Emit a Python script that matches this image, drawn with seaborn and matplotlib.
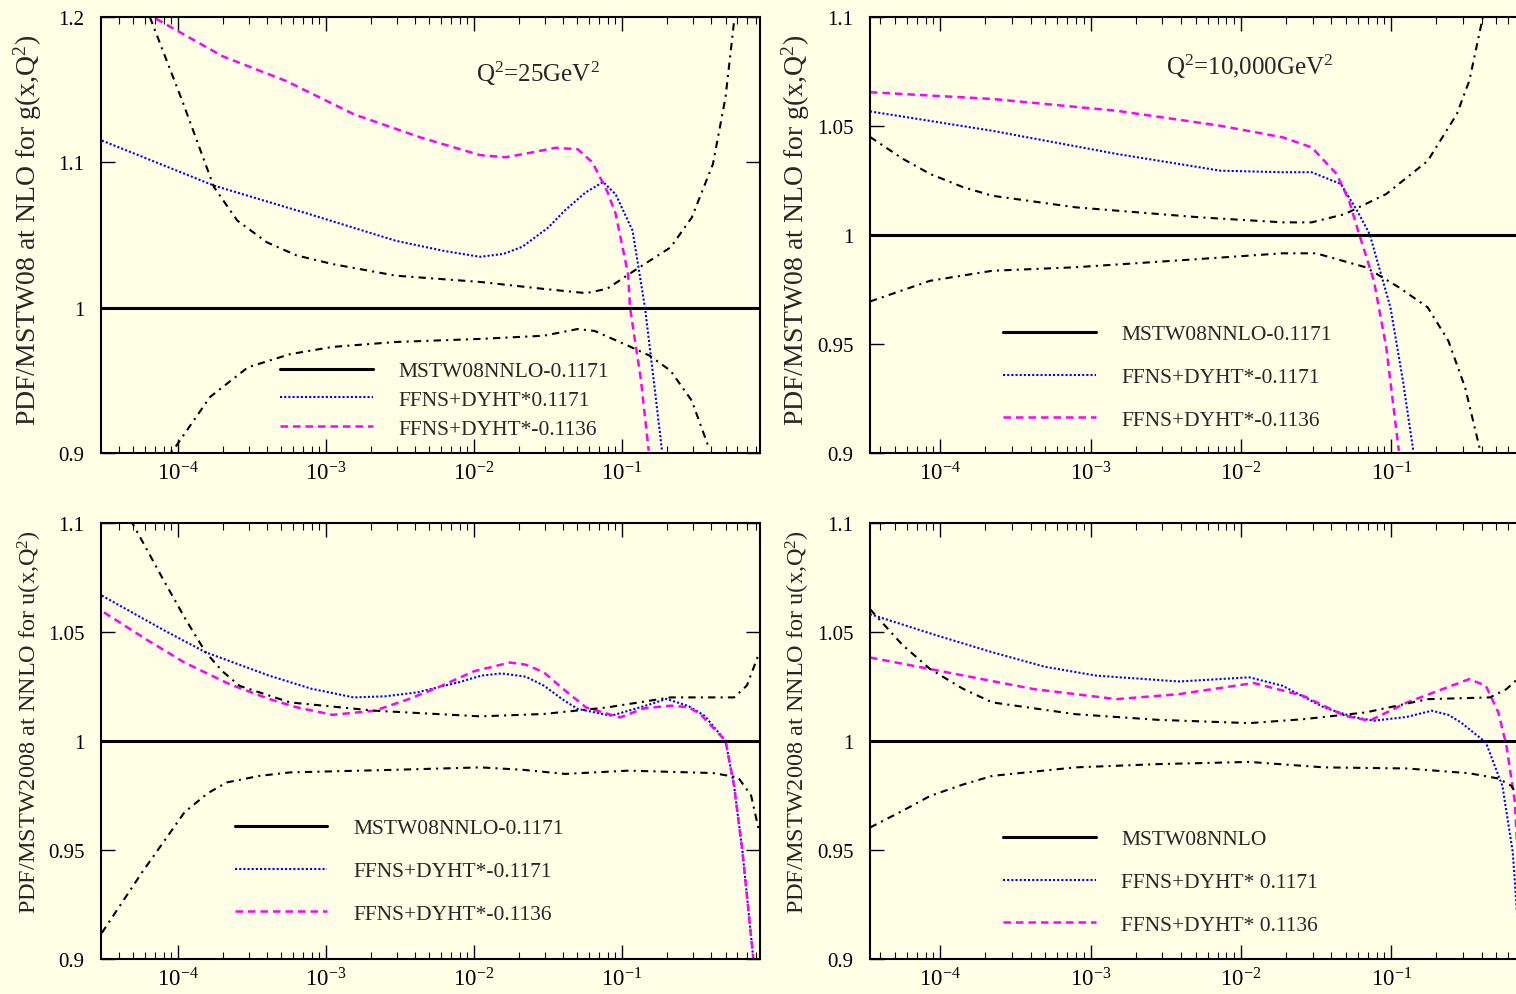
import numpy as np
import seaborn as sns
import matplotlib.pyplot as plt
from matplotlib.ticker import LogLocator, FixedLocator, FuncFormatter, NullFormatter

sns.set_style('ticks')
plt.rcParams['font.family'] = ['Liberation Serif', 'DejaVu Serif']
plt.rcParams['mathtext.fontset'] = 'custom'
plt.rcParams['mathtext.rm'] = 'Liberation Serif'
plt.rcParams['mathtext.it'] = 'Liberation Serif:italic'
plt.rcParams['mathtext.bf'] = 'Liberation Serif:bold'

BG = '#ffffe6'

# ---------------- top left : gluon, Q2 = 25 GeV2 (log10 x, ratio)
tl_blue_lx = [-4.514, -3.757, -3.101, -2.527, -2.2, -1.959, -1.8, -1.672, -1.5, -1.385, -1.25, -1.128, -1.043, -0.929, -0.845, -0.786, -0.730]
tl_blue_y = [1.115, 1.084, 1.064, 1.046, 1.039, 1.035, 1.037, 1.042, 1.055, 1.067, 1.079, 1.0865, 1.078, 1.053, 1.000, 0.950, 0.9016]
tl_mag_lx = [-4.52, -4.169, -3.699, -3.27, -2.81, -2.358, -1.96, -1.786, -1.65, -1.45, -1.3, -1.2, -1.1, -1.043, -0.959, -0.946, -0.872, -0.820]
tl_mag_y = [1.215, 1.200, 1.173, 1.156, 1.133, 1.117, 1.105, 1.1035, 1.106, 1.110, 1.109, 1.100, 1.080, 1.0645, 1.023, 1.000, 0.950, 0.9016]
tl_up_lx = [-4.52, -4.19, -3.97, -3.757, -3.6, -3.4, -3.2, -2.956, -2.527, -1.959, -1.528, -1.243, -1.101, -0.900, -0.672, -0.529, -0.386, -0.301, -0.243]
tl_up_y = [1.28, 1.200, 1.142, 1.083, 1.060, 1.045, 1.036, 1.030, 1.022, 1.0177, 1.0129, 1.010, 1.013, 1.0266, 1.0415, 1.062, 1.0988, 1.1447, 1.197]
tl_lo_lx = [-4.52, -4.027, -3.784, -3.527, -3.243, -2.956, -2.527, -1.959, -1.528, -1.300, -1.186, -0.959, -0.814, -0.672, -0.529, -0.415]
tl_lo_y = [0.86, 0.9027, 0.9385, 0.959, 0.968, 0.973, 0.9764, 0.9785, 0.9807, 0.9853, 0.984, 0.9738, 0.967, 0.9566, 0.936, 0.904]

# ---------------- top right : gluon, Q2 = 10,000 GeV2
tr_blue_lx = [-4.467, -3.653, -2.827, -2.135, -1.722, -1.529, -1.335, -1.227, -1.143, -1.005, -0.922, -0.853]
tr_blue_y = [1.0567, 1.0478, 1.0372, 1.0295, 1.0288, 1.0288, 1.0234, 1.0112, 1.0004, 0.9668, 0.9332, 0.901]
tr_mag_lx = [-4.467, -3.653, -2.827, -2.135, -1.722, -1.529, -1.363, -1.28, -1.213, -1.115, -1.033, -0.949]
tr_mag_y = [1.0655, 1.0624, 1.057, 1.0501, 1.0448, 1.0402, 1.028, 1.0157, 1.0004, 0.979, 0.9486, 0.901]
tr_up_lx = [-4.467, -4.25, -4.067, -3.85, -3.653, -3.1, -2.273, -1.722, -1.529, -1.308, -1.033, -0.757, -0.563, -0.48, -0.4, -0.3]
tr_up_y = [1.045, 1.035, 1.028, 1.022, 1.018, 1.0127, 1.0081, 1.0058, 1.0058, 1.0096, 1.0188, 1.034, 1.0555, 1.0708, 1.0968, 1.13]
tr_lo_lx = [-4.467, -4.067, -3.653, -3.1, -2.273, -1.722, -1.5, -1.17, -0.949, -0.757, -0.62, -0.508, -0.413, -0.35]
tr_lo_y = [0.9695, 0.979, 0.9836, 0.9852, 0.989, 0.9916, 0.9916, 0.9852, 0.976, 0.9668, 0.9515, 0.930, 0.9026, 0.88]

# ---------------- bottom left : up quark, NNLO
bl_blue_lx = [-4.514, -4.1, -3.813, -3.385, -3.1, -2.814, -2.6, -2.385, -2.1, -1.95, -1.814, -1.65, -1.528, -1.4, -1.3, -1.072, -0.85, -0.7, -0.55, -0.443, -0.301, -0.243, -0.186, -0.115, -0.09]
bl_blue_y = [1.0667, 1.051, 1.0407, 1.030, 1.024, 1.020, 1.0205, 1.0223, 1.027, 1.030, 1.031, 1.0295, 1.0254, 1.019, 1.0147, 1.0116, 1.016, 1.0193, 1.016, 1.0116, 1.0001, 0.9794, 0.949, 0.9014, 0.88]
bl_mag_lx = [-4.5, -4.2, -3.956, -3.65, -3.385, -3.2, -2.956, -2.671, -2.45, -2.243, -2.0, -1.757, -1.65, -1.528, -1.4, -1.243, -1.014, -0.85, -0.672, -0.55, -0.473, -0.301, -0.243, -0.186, -0.115, -0.09]
bl_mag_y = [1.059, 1.046, 1.036, 1.026, 1.0193, 1.0155, 1.012, 1.0139, 1.019, 1.0246, 1.032, 1.036, 1.035, 1.0315, 1.024, 1.0154, 1.0108, 1.015, 1.0162, 1.0155, 1.0124, 1.0001, 0.9794, 0.949, 0.9014, 0.88]
bl_up_lx = [-4.52, -4.284, -4.099, -3.95, -3.813, -3.7, -3.584, -3.243, -2.671, -1.957, -1.528, -1.101, -0.672, -0.243, -0.157, -0.072]
bl_up_y = [1.125, 1.097, 1.074, 1.056, 1.0407, 1.032, 1.0253, 1.0177, 1.0139, 1.0113, 1.0124, 1.0154, 1.020, 1.020, 1.0254, 1.0407]
bl_lo_lx = [-4.514, -4.243, -3.956, -3.8, -3.67, -3.45, -3.243, -2.528, -1.957, -1.672, -1.385, -0.957, -0.386, -0.216, -0.128, -0.072]
bl_lo_y = [0.912, 0.9397, 0.9673, 0.976, 0.981, 0.984, 0.9856, 0.9868, 0.9879, 0.9868, 0.9849, 0.9864, 0.9853, 0.9833, 0.975, 0.958]

# ---------------- bottom right : up quark, NNLO
br_blue_lx = [-4.467, -4.05, -3.653, -3.3, -2.963, -2.411, -1.943, -1.722, -1.447, -1.25, -1.115, -0.9, -0.729, -0.62, -0.536, -0.37, -0.26, -0.191, -0.16, -0.12]
br_blue_y = [1.0582, 1.049, 1.0407, 1.034, 1.030, 1.0273, 1.0292, 1.0253, 1.0154, 1.011, 1.0093, 1.011, 1.0139, 1.012, 1.0085, 0.9993, 0.9794, 0.9489, 0.918, 0.88]
br_mag_lx = [-4.467, -4.067, -3.377, -2.827, -2.411, -1.915, -1.584, -1.308, -1.143, -0.894, -0.65, -0.48, -0.37, -0.287, -0.233, -0.177, -0.16, -0.12]
br_mag_y = [1.0383, 1.033, 1.0238, 1.0192, 1.0215, 1.0266, 1.0207, 1.0115, 1.0093, 1.0177, 1.024, 1.0284, 1.0253, 1.0131, 0.9978, 0.9718, 0.949, 0.90]
br_up_lx = [-4.467, -4.25, -4.067, -3.85, -3.653, -3.1, -2.549, -1.943, -1.584, -1.17, -0.757, -0.343, -0.233, -0.16, -0.1]
br_up_y = [1.0605, 1.044, 1.033, 1.024, 1.0177, 1.0123, 1.0097, 1.0082, 1.010, 1.0131, 1.0192, 1.020, 1.0238, 1.0284, 1.035]
br_lo_lx = [-4.467, -4.25, -4.067, -3.85, -3.653, -3.1, -2.549, -1.943, -1.447, -0.894, -0.48, -0.287, -0.20, -0.16, -0.1]
br_lo_y = [0.9603, 0.968, 0.9748, 0.980, 0.984, 0.9879, 0.9894, 0.9904, 0.9879, 0.9874, 0.9852, 0.9828, 0.9794, 0.9748, 0.968]

lab_g = 'PDF/MSTW08 at NLO for g(x,Q$^2$)'
lab_u = 'PDF/MSTW2008 at NNLO for u(x,Q$^2$)'

fig = plt.figure(figsize=(15.16, 9.95), dpi=100, facecolor=BG)

W, H = 1516.0, 995.0
def box(l, r, t, b):
    return [l / W, (H - b) / H, (r - l) / W, (b - t) / H]


def panel(rect, xlim, ylim, yticks, curves, labels, leg_xy, leg_space, ylabel, lab_size, lab_y, note=None):
    ax = fig.add_axes(rect, facecolor=BG)
    ref = ax.axhline(1.0, color='black', lw=2.2, label=labels[0])
    blue_lx, blue_y, mag_lx, mag_y, up_lx, up_y, lo_lx, lo_y = curves
    sns.lineplot(x=10 ** np.array(blue_lx), y=blue_y, ax=ax, color='#0000ff', lw=1.5,
                 linestyle=(0, (1, 1)), legend=False, estimator=None, sort=False)
    hb = ax.get_lines()[-1]
    sns.lineplot(x=10 ** np.array(mag_lx), y=mag_y, ax=ax, color='#ff00ff', lw=1.8,
                 linestyle=(0, (3, 2)), legend=False, estimator=None, sort=False)
    hm = ax.get_lines()[-1]
    for lx, yy in [(up_lx, up_y), (lo_lx, lo_y)]:
        sns.lineplot(x=10 ** np.array(lx), y=yy, ax=ax, color='black', lw=1.5,
                     linestyle=(0, (3.5, 2.5, 1, 2.5)), legend=False, estimator=None, sort=False)
    ax.set_xscale('log')
    ax.set_xlim(*xlim)
    ax.set_ylim(*ylim)
    ax.xaxis.set_major_locator(LogLocator(base=10, numticks=20))
    ax.xaxis.set_minor_locator(LogLocator(base=10, subs=np.arange(2, 10), numticks=20))
    ax.xaxis.set_minor_formatter(NullFormatter())
    ax.xaxis.set_major_formatter(FuncFormatter(lambda v, p: '$10^{%d}$' % round(np.log10(v))))
    ax.yaxis.set_major_locator(FixedLocator(yticks))
    ax.yaxis.set_major_formatter(FuncFormatter(lambda v, p: '%g' % v))
    ax.tick_params(which='both', direction='in', top=True, right=True, colors='black')
    ax.tick_params(which='major', length=10, width=1.0, labelsize=15)
    ax.tick_params(axis='x', which='major', labelsize=16.5, pad=6)
    ax.tick_params(which='minor', length=5, width=0.8)
    ax.tick_params(axis='y', which='major', pad=12)
    for s in ax.spines.values():
        s.set_linewidth(1.5)
        s.set_color('black')
    ax.set_ylabel(ylabel, fontsize=lab_size)
    ax.yaxis.set_label_coords(-0.086, lab_y)
    ax.legend(handles=[ref, hb, hm], labels=labels, loc='center left', bbox_to_anchor=leg_xy,
              frameon=False, fontsize=15.5, handlelength=4.3, handletextpad=1.2,
              labelspacing=leg_space, borderpad=0, borderaxespad=0)
    if note is not None:
        ax.text(note[0], note[1], note[2], transform=ax.transAxes, fontsize=18,
                ha='center', va='baseline')
    return ax


xl_left = (10 ** -4.52, 10 ** -0.068)
xl_right = (10 ** -4.467, 10 ** -0.01)

panel(box(101, 760, 18, 454), xl_left, (0.9, 1.2), [0.9, 1.0, 1.1, 1.2],
      (tl_blue_lx, tl_blue_y, tl_mag_lx, tl_mag_y, tl_up_lx, tl_up_y, tl_lo_lx, tl_lo_y),
      ['MSTW08NNLO-0.1171', 'FFNS+DYHT*0.1171', 'FFNS+DYHT*-0.1136'],
      (0.2716, 0.1216), 0.4, lab_g, 20, 0.514, (0.663, 0.853, 'Q$^2$=25GeV$^2$'))

panel(box(870, 1540, 18, 454), xl_right, (0.9, 1.1), [0.9, 0.95, 1.0, 1.05, 1.1],
      (tr_blue_lx, tr_blue_y, tr_mag_lx, tr_mag_y, tr_up_lx, tr_up_y, tr_lo_lx, tr_lo_y),
      ['MSTW08NNLO-0.1171', 'FFNS+DYHT*-0.1171', 'FFNS+DYHT*-0.1136'],
      (0.1985, 0.1743), 1.05, lab_g, 20, 0.514, (0.567, 0.87, 'Q$^2$=10,000GeV$^2$'))

panel(box(101, 760, 524, 960), xl_left, (0.9, 1.1), [0.9, 0.95, 1.0, 1.05, 1.1],
      (bl_blue_lx, bl_blue_y, bl_mag_lx, bl_mag_y, bl_up_lx, bl_up_y, bl_lo_lx, bl_lo_y),
      ['MSTW08NNLO-0.1171', 'FFNS+DYHT*-0.1171', 'FFNS+DYHT*-0.1136'],
      (0.203, 0.2018), 1.05, lab_u, 17.5, 0.546)

panel(box(870, 1540, 524, 960), xl_right, (0.9, 1.1), [0.9, 0.95, 1.0, 1.05, 1.1],
      (br_blue_lx, br_blue_y, br_mag_lx, br_mag_y, br_up_lx, br_up_y, br_lo_lx, br_lo_y),
      ['MSTW08NNLO', 'FFNS+DYHT* 0.1171', 'FFNS+DYHT* 0.1136'],
      (0.1985, 0.1766), 1.05, lab_u, 17.5, 0.546)

fig.savefig('out.png', dpi=100, facecolor=BG)
